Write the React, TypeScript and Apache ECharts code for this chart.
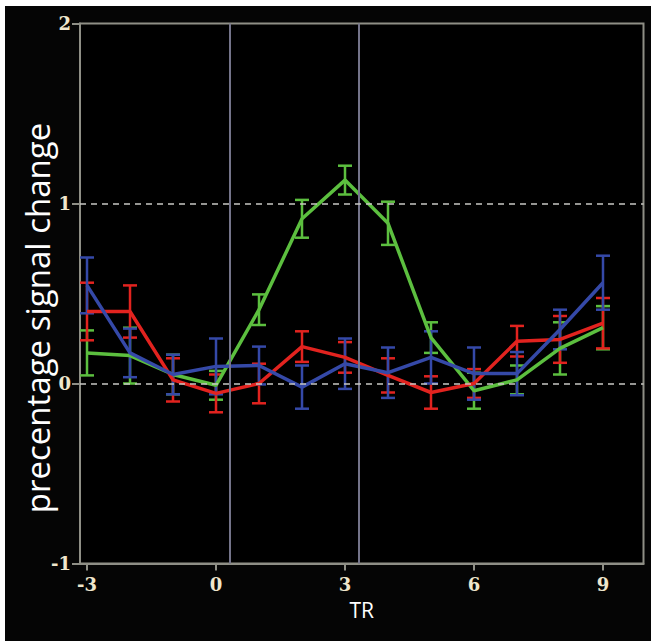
import React, { useEffect, useRef } from "react";
import * as echarts from "echarts";

const trValues = [-3, -2, -1, 0, 1, 2, 3, 4, 5, 6, 7, 8, 9];
const xTickValues = [-3, 0, 3, 6, 9];

const greenMean = [0.17, 0.155, 0.05, -0.01, 0.41, 0.915, 1.13, 0.89, 0.255, -0.04, 0.02, 0.195, 0.31];
const greenErr = [0.125, 0.155, 0.11, 0.08, 0.085, 0.105, 0.08, 0.12, 0.085, 0.1, 0.08, 0.145, 0.12];

const redMean = [0.4, 0.4, 0.02, -0.055, 0.0, 0.205, 0.145, 0.045, -0.05, 0.0, 0.235, 0.245, 0.335];
const redErr = [0.16, 0.145, 0.12, 0.105, 0.11, 0.085, 0.085, 0.095, 0.09, 0.08, 0.085, 0.13, 0.14];

const blueMean = [0.545, 0.17, 0.05, 0.095, 0.1, -0.02, 0.11, 0.06, 0.145, 0.055, 0.055, 0.3, 0.56];
const blueErr = [0.155, 0.135, 0.11, 0.155, 0.105, 0.12, 0.14, 0.14, 0.145, 0.145, 0.12, 0.11, 0.15];

const markerLinesX = [0.32, 3.31];
const dashedLinesY = [0, 1];

const yTitle = "precentage signal change";
const xTitle = "TR";

const GREEN = "#5cbf3f";
const RED = "#e2231f";
const BLUE = "#3549a8";

function errorSeries(name: string, mean: number[], err: number[], color: string) {
  const data = trValues.map((x, i) => [x, mean[i] - err[i], mean[i] + err[i]]);
  return {
    type: "custom",
    name: name + " error",
    data,
    encode: { x: 0, y: [1, 2] },
    renderItem: (_params: any, api: any) => {
      const x = api.value(0);
      const lo = api.coord([x, api.value(1)]);
      const hi = api.coord([x, api.value(2)]);
      const hw = 7;
      const style = { stroke: color, lineWidth: 2.5, fill: "none" };
      return {
        type: "group",
        children: [
          { type: "line", shape: { x1: lo[0], y1: lo[1], x2: hi[0], y2: hi[1] }, style },
          { type: "line", shape: { x1: lo[0] - hw, y1: lo[1], x2: lo[0] + hw, y2: lo[1] }, style },
          { type: "line", shape: { x1: hi[0] - hw, y1: hi[1], x2: hi[0] + hw, y2: hi[1] }, style },
        ],
      };
    },
    silent: true,
  };
}

function lineSeries(name: string, mean: number[], color: string) {
  return {
    type: "line",
    name,
    data: trValues.map((x, i) => [x, mean[i]]),
    symbol: "none",
    lineStyle: { color, width: 3.5 },
    itemStyle: { color },
    silent: true,
  };
}

export default function App() {
  const ref = useRef<HTMLDivElement>(null);
  useEffect(() => {
    document.body.style.margin = "0";
    if (!ref.current) return;
    const chart = echarts.init(ref.current, undefined, { renderer: "svg" });
    const tickLabelStyle = {
      color: "#efe6cc",
      fontFamily: "DejaVu Serif",
      fontWeight: "bold" as const,
      fontSize: 18,
    };
    chart.setOption({
      animation: false,
      backgroundColor: "#050505",
      grid: {
        left: 75,
        top: 17.5,
        right: 7.5,
        bottom: 77.5,
        show: true,
        borderColor: "#8f8f86",
        borderWidth: 2,
        backgroundColor: "#000000",
      },
      graphic: [
        {
          type: "text",
          x: 32,
          y: 312,
          rotation: Math.PI / 2,
          silent: true,
          style: {
            text: yTitle,
            fill: "#ffffff",
            font: '33px "Open Sans"',
            textAlign: "center",
            textVerticalAlign: "middle",
          },
        },
      ],
      xAxis: {
        type: "value",
        min: -3.163,
        max: 9.942,
        name: xTitle,
        nameLocation: "middle",
        nameGap: 36,
        nameTextStyle: { color: "#ffffff", fontFamily: "Open Sans", fontSize: 21 },
        axisLine: { show: true, onZero: false, lineStyle: { color: "#8f8f86", width: 2 } },
        axisTick: { show: true, length: 7, customValues: xTickValues, lineStyle: { color: "#8f8f86", width: 2 } },
        axisLabel: { ...tickLabelStyle, customValues: xTickValues, margin: 12, formatter: (v: number) => String(v) },
        splitLine: { show: false },
      },
      yAxis: {
        type: "value",
        min: -1,
        max: 2,
        interval: 1,
        axisLine: { show: true, onZero: false, lineStyle: { color: "#8f8f86", width: 2 } },
        axisTick: { show: true, length: 8, lineStyle: { color: "#8f8f86", width: 2 } },
        axisLabel: { ...tickLabelStyle, margin: 9 },
        splitLine: { show: false },
      },
      series: [
        {
          type: "line",
          name: "reference lines",
          data: [],
          silent: true,
          markLine: {
            silent: true,
            symbol: "none",
            label: { show: false },
            animation: false,
            data: [
              ...markerLinesX.map((x) => ({ xAxis: x, lineStyle: { color: "#74748a", width: 2, type: "solid" } })),
              ...dashedLinesY.map((y) => ({ yAxis: y, lineStyle: { color: "#c8c8c4", width: 1.5, type: [6, 5] } })),
            ],
          },
        },
        errorSeries("green", greenMean, greenErr, GREEN),
        lineSeries("green", greenMean, GREEN),
        errorSeries("red", redMean, redErr, RED),
        lineSeries("red", redMean, RED),
        errorSeries("blue", blueMean, blueErr, BLUE),
        lineSeries("blue", blueMean, BLUE),
      ],
    });
    return () => chart.dispose();
  }, []);
  return (
    <div style={{ position: "relative", width: 651, height: 641, background: "#ffffff", overflow: "hidden" }}>
      <div ref={ref} style={{ position: "absolute", left: 5, top: 6, width: 646, height: 635 }} />
    </div>
  );
}
